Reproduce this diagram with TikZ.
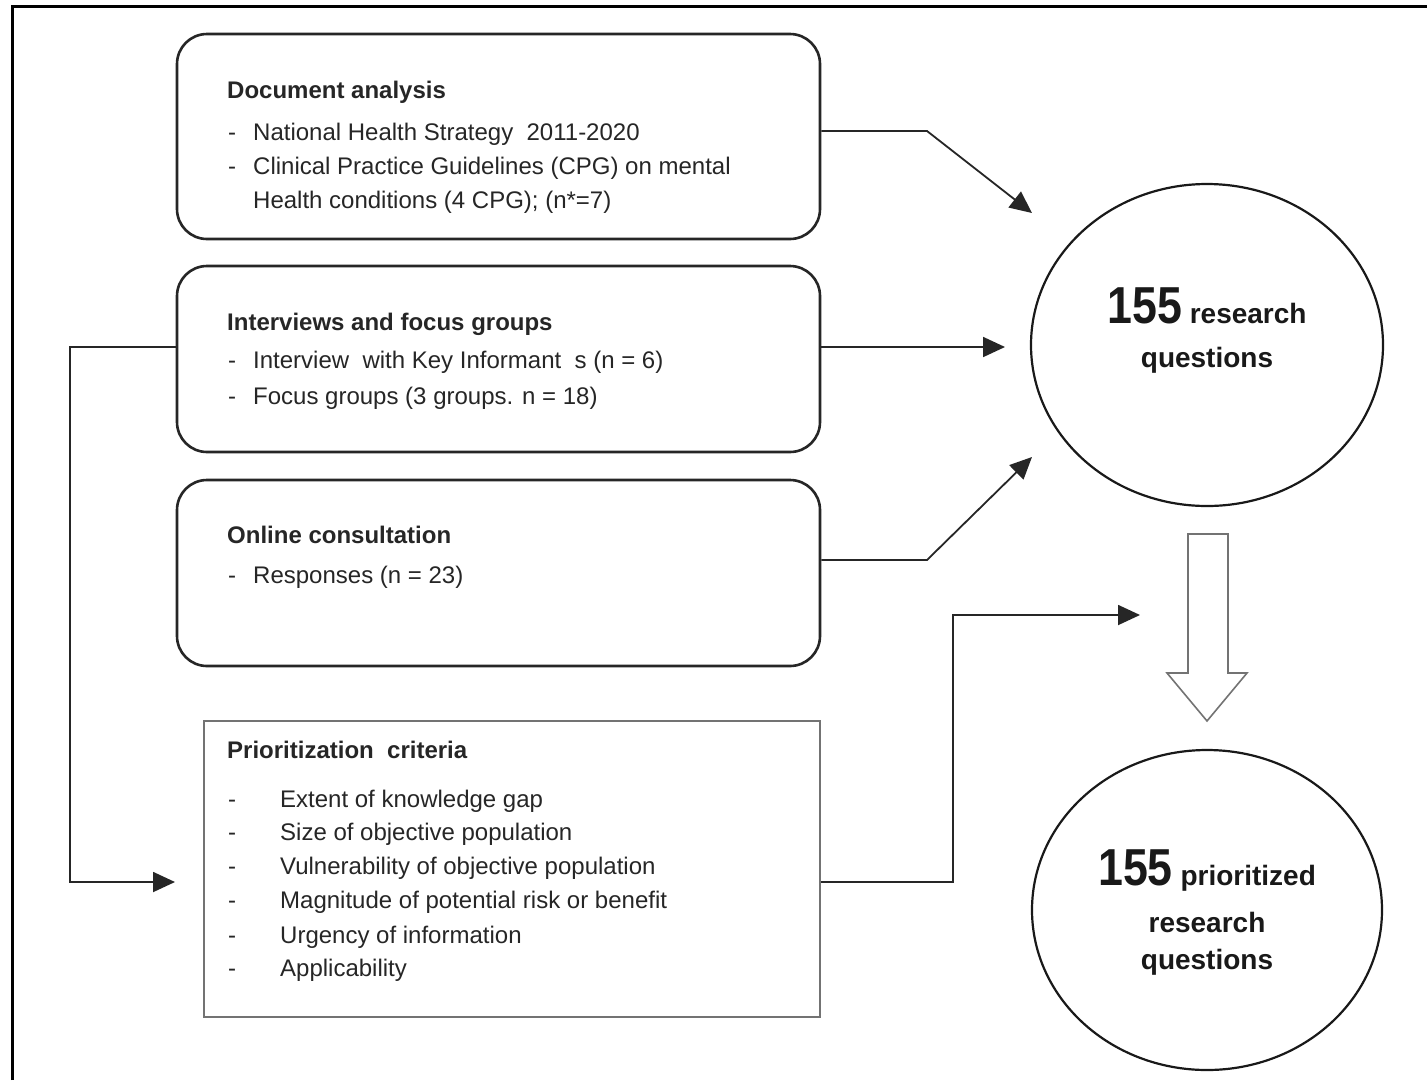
\documentclass[tikz,border=0pt]{standalone}
\usepackage{fontspec}
\usepackage{graphicx}
\setmainfont{Liberation Sans}
\usetikzlibrary{arrows.meta,shapes.geometric}
\newcommand{\numbig}[1]{\scalebox{0.86}[1]{\fontsize{52}{56}\selectfont\bfseries #1}}
\begin{document}
\begin{tikzpicture}[x=1pt,y=-1pt,
  rbox/.style={draw=black!85, line width=2.6pt, rounded corners=30pt, minimum width=643pt, inner sep=0pt},
  sbox/.style={draw=black!55, line width=2pt, inner sep=0pt},
  oval/.style={draw=black!90, ellipse, line width=2.2pt, inner sep=0pt},
  conn/.style={line width=1.8pt, draw=black!85, -{Triangle[length=22pt,width=20pt]}},
  txt/.style={anchor=base west, inner sep=0pt, font=\fontsize{24}{28}\selectfont, text=black!85},
  ttl/.style={anchor=base west, inner sep=0pt, font=\fontsize{24}{28}\selectfont\bfseries, text=black!85},
  ctxt/.style={anchor=base, inner sep=0pt, font=\fontsize{28}{34}\selectfont\bfseries, text=black!90}]
\useasboundingbox (0,0) rectangle (1427,1080);
\fill[white] (0,0) rectangle (1427,1080);
% outer frame (top and left only)
\draw[line width=3pt] (12,1080) -- (12,6) -- (1427,6);

% boxes
\node[rbox, minimum height=205pt] (doc) at (498.5,136.5) {};
\node[rbox, minimum height=186pt] (iv) at (498.5,359) {};
\node[rbox, minimum height=186pt] (oc) at (498.5,573) {};
\node[sbox, minimum width=616pt, minimum height=296pt] (pc) at (512,869) {};

% ovals
\node[oval, minimum width=352pt, minimum height=322pt] (rq) at (1207,345) {};
\node[oval, minimum width=350pt, minimum height=320pt] (prq) at (1207,910) {};

% block arrow
\draw[draw=black!55, fill=white, line width=1.6pt, line join=miter]
  (1188,534) -- (1228,534) -- (1228,673) -- (1247,673) -- (1207,721)
  -- (1167,673) -- (1188,673) -- cycle;

% box texts
\node[ttl] (t11) at (227,98) {Document analysis};
\node[txt] (d12) at (228,140) {-};
\node[txt] (t12) at (253,140) {National Health Strategy \ 2011-2020};
\node[txt] (d13) at (228,174) {-};
\node[txt] (t13) at (253,174) {Clinical Practice Guidelines (CPG) on mental};
\node[txt] (t14) at (253,208) {Health conditions (4 CPG); (n*=7)};

\node[ttl] (t21) at (227,330) {Interviews and focus groups};
\node[txt] (d22) at (228,368) {-};
\node[txt] (t22) at (253,368) {Interview \ with Key Informant \ s (n = 6)};
\node[txt] (d23) at (228,404) {-};
\node[txt] (t23) at (253,404) {Focus groups (3 groups. n = 18)};

\node[ttl] (t31) at (227,543) {Online consultation};
\node[txt] (d32) at (228,583) {-};
\node[txt] (t32) at (253,583) {Responses (n = 23)};

\node[ttl] (t41) at (227,758) {Prioritization \ criteria};
\node[txt] (d42) at (228,807) {-};
\node[txt] (t42) at (280,807) {Extent of knowledge gap};
\node[txt] (d43) at (228,840) {-};
\node[txt] (t43) at (280,840) {Size of objective population};
\node[txt] (d44) at (228,874) {-};
\node[txt] (t44) at (280,874) {Vulnerability of objective population};
\node[txt] (d45) at (228,908) {-};
\node[txt] (t45) at (280,908) {Magnitude of potential risk or benefit};
\node[txt] (d46) at (228,943) {-};
\node[txt] (t46) at (280,943) {Urgency of information};
\node[txt] (d47) at (228,976) {-};
\node[txt] (t47) at (280,976) {Applicability};

% oval texts
\node[ctxt] (c11) at (1207,323) {\numbig{155} research};
\node[ctxt] (c12) at (1207,367) {questions};
\node[ctxt] (c21) at (1207,885) {\numbig{155} prioritized};
\node[ctxt] (c22) at (1207,932) {research};
\node[ctxt] (c23) at (1207,969) {questions};

% arrow tips (free ends)
\coordinate (e1) at (1032,213);
\coordinate (e2) at (1005,347);
\coordinate (e3) at (1032,457);
\coordinate (e4) at (1140,615);
\coordinate (e5) at (175,882);

% connectors
\draw[conn] (doc.east) ++(0,-5.5) -- (927,131) -- (e1);
\draw[conn] (iv.east) ++(0,-12) -- (e2);
\draw[conn] (oc.east) ++(0,-13) -- (927,560) -- (e3);
\draw[conn] (pc.east) ++(0,13) -- (953,882) -- (953,615) -- (e4);
\draw[conn] (iv.west) ++(0,-12) -- (70,347) -- (70,882) -- (e5);
\end{tikzpicture}
\end{document}
